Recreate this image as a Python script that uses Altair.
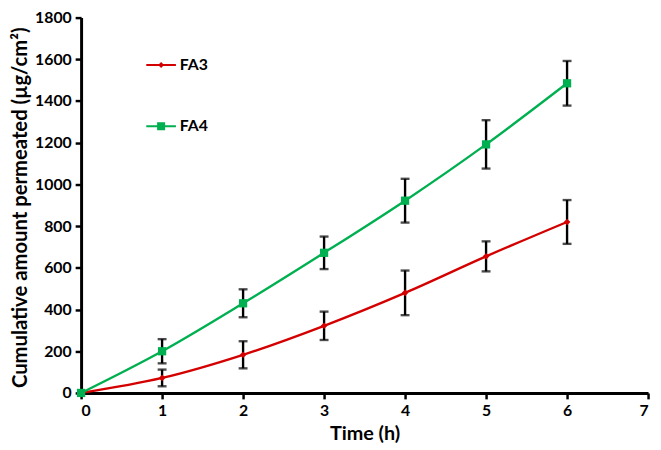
import altair as alt
import pandas as pd

time = [0, 1, 2, 3, 4, 5, 6]
fa3 = [0, 72, 183, 322, 480, 655, 820]
fa3_err = [0, 40, 65, 68, 107, 72, 105]
fa4 = [0, 200, 430, 672, 922, 1192, 1485]
fa4_err = [0, 58, 67, 78, 105, 116, 107]
series_names = ["FA3", "FA4"]
colors = ["#d40000", "#00b050"]
marker_shapes = ["diamond", "square"]
legend_shapes = [
    "M-1,-0.07H1V0.07H-1Z M0,-0.2L0.2,0L0,0.2L-0.2,0Z",
    "M-1,-0.07H1V0.07H-1Z M-0.27,-0.27H0.27V0.27H-0.27Z",
]

rows = []
for name, vals, errs in [("FA3", fa3, fa3_err), ("FA4", fa4, fa4_err)]:
    for t, v, e in zip(time, vals, errs):
        rows.append({"time": t, "series": name, "value": v, "lo": v - e, "hi": v + e, "err": e})
df = pd.DataFrame(rows)

FONT = "Lato"

xenc = alt.X("time:Q", scale=alt.Scale(domain=[0, 7], nice=False, zero=False),
             axis=alt.Axis(title="Time (h)", values=list(range(8)), format="d",
                           grid=False, domainColor="black", domainWidth=3,
                           tickColor="black", tickWidth=2.5, tickSize=6,
                           labelFont=FONT, labelFontSize=16, labelFontWeight="bold",
                           labelColor="black", labelPadding=4,
                           titleFont=FONT, titleFontSize=20, titleFontWeight="bold",
                           titleColor="black", titleX=287, titleY=41,
                           titleBaseline="middle", titleAlign="center"))
yenc = alt.Y("value:Q", scale=alt.Scale(domain=[0, 1800], nice=False),
             axis=alt.Axis(title="Cumulative amount permeated (µg/cm²)",
                           values=list(range(0, 1801, 200)), format="d",
                           grid=False, domainColor="black", domainWidth=3,
                           tickColor="black", tickWidth=2.5, tickSize=6,
                           labelFont=FONT, labelFontSize=16, labelFontWeight="bold",
                           labelColor="black", labelPadding=4,
                           titleFont=FONT, titleFontSize=20.5, titleFontWeight="bold",
                           titleColor="black", titleX=-61, titleY=192,
                           titleBaseline="middle", titleAlign="center", titleAngle=270))

cscale = alt.Scale(domain=series_names, range=colors)

base = alt.Chart(df)

line = base.mark_line(interpolate="monotone", strokeWidth=2.4).encode(
    x=xenc, y=yenc, color=alt.Color("series:N", scale=cscale, legend=None),
    detail="series:N")

errdata = base.transform_filter("datum.err > 0")
rule = errdata.mark_rule(color="black", strokeWidth=2.4).encode(
    x="time:Q", y="lo:Q", y2="hi:Q")
cap_lo = errdata.mark_tick(color="black", thickness=2.4, size=9, orient="horizontal").encode(
    x="time:Q", y="lo:Q")
cap_hi = errdata.mark_tick(color="black", thickness=2.4, size=9, orient="horizontal").encode(
    x="time:Q", y="hi:Q")

points = base.mark_point(filled=True, opacity=1).encode(
    x="time:Q", y="value:Q",
    color=alt.Color("series:N", scale=cscale, legend=None),
    shape=alt.Shape("series:N", scale=alt.Scale(domain=series_names, range=marker_shapes), legend=None),
    size=alt.Size("series:N", scale=alt.Scale(domain=series_names, range=[45, 70]), legend=None),
)

# legend-only layer: no marks drawn, the legend comes from the explicit scale domain
leg = base.transform_filter("false").mark_point(filled=True, opacity=1, size=900).encode(
    x="time:Q", y="value:Q",
    color=alt.Color("series:N", scale=cscale,
                    legend=alt.Legend(title=None, orient="none", legendX=66, legendY=33,
                                      padding=0, rowPadding=39,
                                      symbolSize=900, labelFont=FONT, labelFontSize=16,
                                      labelFontWeight="bold", labelColor="black",
                                      labelOffset=4, symbolStrokeWidth=0)),
    shape=alt.Shape("series:N", scale=alt.Scale(domain=series_names, range=legend_shapes)),
)

chart = alt.layer(line, rule, cap_lo, cap_hi, points, leg).resolve_scale(
    color="independent", shape="independent", size="independent"
).resolve_legend(color="independent", shape="independent").properties(
    width=574, height=380,
    autosize=alt.AutoSizeParams(type="none"),
    padding={"left": 74, "top": 7, "right": 5, "bottom": 52},
).configure_view(stroke=None)

chart.save("out.html", embed_options={"renderer": "svg", "actions": False})
